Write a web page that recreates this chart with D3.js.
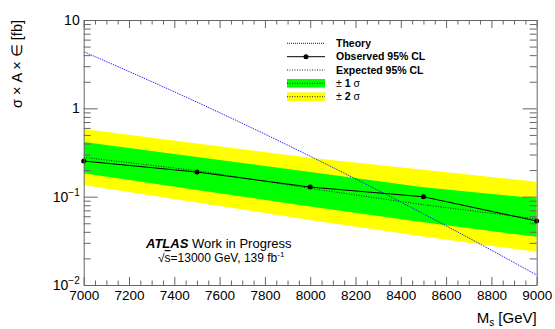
<!DOCTYPE html>
<html>
<head>
<meta charset="utf-8">
<script src="https://cdn.jsdelivr.net/npm/d3@7"></script>
<style>
  body { margin: 0; background: #fff; }
  svg text { font-family: "Liberation Sans", Arial, Helvetica, sans-serif; }
  .axis path, .axis line { stroke: #666; }
</style>
</head>
<body>
<div id="limitplot"></div>
<script>
// mass points of the limit scan
var masses     = [7000, 7500, 8000, 8500, 9000];
var observed   = [0.253, 0.19, 0.1285, 0.0997, 0.053];
var expected   = [0.279, 0.197, 0.124, 0.081, 0.056];
var band1Up    = [0.415, 0.281, 0.19, 0.128, 0.0957];
var band1Down  = [0.1836, 0.119, 0.0775, 0.0513, 0.0351];
var band2Up    = [0.583, 0.40, 0.275, 0.2017, 0.1475];
var band2Down  = [0.1353, 0.086, 0.0546, 0.0354, 0.0238];

// theory curve
var theoryMass = [7000, 7250, 7500, 7750, 8000, 8250, 8500, 8750, 9000];
var theory     = [4.38, 2.29, 1.175, 0.588, 0.287, 0.137, 0.0639, 0.0291, 0.01295];

// axis ticks
var xTicks      = [7000, 7200, 7400, 7600, 7800, 8000, 8200, 8400, 8600, 8800, 9000];
var yTicks      = [0.01, 0.1, 1, 10];
var yTickLabels = [["10", "-2"], ["10", "-1"], ["1", ""], ["10", ""]];

limitplot();

function limitplot() {
  var svg = d3.select("#limitplot")
              .append("svg")
              .attr("width", 555)
              .attr("height", 329);

  var left = 83.7, right = 536.7, top = 20, bottom = 285;

  var x = d3.scaleLinear().domain([7000, 9000]).range([left, right]);
  var y = d3.scaleLog().domain([0.01, 10]).range([bottom, top]);

  svg.append("clipPath").attr("id", "frame")
     .append("rect")
       .attr("x", left).attr("y", top)
       .attr("width", right - left).attr("height", bottom - top);

  var plot = svg.append("g").attr("clip-path", "url(#frame)");

  var rows = masses.map(function(m, i) {
    return { m: m, obs: observed[i], exp: expected[i],
             u1: band1Up[i], d1: band1Down[i], u2: band2Up[i], d2: band2Down[i] };
  });

  // +-2 sigma and +-1 sigma bands
  plot.append("path")
      .datum(rows)
      .attr("fill", "#ffff00")
      .attr("d", d3.area().x(function(d) { return x(d.m); })
                          .y0(function(d) { return y(d.d2); })
                          .y1(function(d) { return y(d.u2); }));
  plot.append("path")
      .datum(rows)
      .attr("fill", "#00ff00")
      .attr("d", d3.area().x(function(d) { return x(d.m); })
                          .y0(function(d) { return y(d.d1); })
                          .y1(function(d) { return y(d.u1); }));

  // expected
  plot.append("path")
      .datum(rows)
      .attr("fill", "none")
      .attr("stroke", "#222")
      .attr("stroke-width", 1)
      .attr("stroke-dasharray", "1,1.5")
      .attr("d", d3.line().x(function(d) { return x(d.m); })
                          .y(function(d) { return y(d.exp); }));

  // theory
  plot.append("path")
      .datum(theoryMass.map(function(m, i) { return { m: m, v: theory[i] }; }))
      .attr("fill", "none")
      .attr("stroke", "#0000ff")
      .attr("stroke-width", 1)
      .attr("stroke-dasharray", "1,1")
      .attr("d", d3.line().curve(d3.curveMonotoneX)
                          .x(function(d) { return x(d.m); })
                          .y(function(d) { return y(d.v); }));

  // observed
  plot.append("path")
      .datum(rows)
      .attr("fill", "none")
      .attr("stroke", "#000")
      .attr("stroke-width", 1)
      .attr("d", d3.line().x(function(d) { return x(d.m); })
                          .y(function(d) { return y(d.obs); }));
  svg.selectAll(".obs")
     .data(rows)
     .enter().append("circle")
       .attr("class", "obs")
       .attr("cx", function(d) { return x(d.m); })
       .attr("cy", function(d) { return y(d.obs); })
       .attr("r", 2.5)
       .attr("fill", "#000");

  // minor tick values
  var xMinor = d3.range(7000, 9001, 50).filter(function(v) { return v % 200 != 0; });
  var yMinor = [];
  [0.01, 0.1, 1].forEach(function(dec) {
    for (var k = 2; k <= 9; k++) yMinor.push(dec * k);
  });

  // bottom axis
  svg.append("g")
      .attr("class", "axis")
      .attr("transform", "translate(0," + bottom + ")")
      .call(d3.axisBottom(x).tickValues(xTicks).tickSizeInner(-8).tickSizeOuter(0).tickPadding(5)
              .tickFormat(d3.format("d")))
      .selectAll("text")
        .attr("font-size", "13.5px")
        .attr("fill", "#000");
  svg.append("g")
      .attr("class", "axis")
      .attr("transform", "translate(0," + bottom + ")")
      .call(d3.axisBottom(x).tickValues(xMinor).tickSize(-4.5).tickFormat(""))
      .select(".domain").remove();

  // top axis (ticks only)
  svg.append("g")
      .attr("class", "axis")
      .attr("transform", "translate(0," + top + ")")
      .call(d3.axisTop(x).tickValues(xTicks).tickSizeInner(-8).tickSizeOuter(0).tickFormat(""));
  svg.append("g")
      .attr("class", "axis")
      .attr("transform", "translate(0," + top + ")")
      .call(d3.axisTop(x).tickValues(xMinor).tickSize(-4.5).tickFormat(""))
      .select(".domain").remove();

  // left axis
  var yAxis = svg.append("g")
      .attr("class", "axis")
      .attr("transform", "translate(" + left + ",0)")
      .call(d3.axisLeft(y).tickValues(yTicks).tickSizeInner(-14).tickSizeOuter(0).tickPadding(4)
              .tickFormat(""));
  yAxis.selectAll(".tick text").each(function(d, i) {
    var t = d3.select(this)
              .attr("font-size", "14px")
              .attr("fill", "#000");
    t.append("tspan").text(yTickLabels[i][0]);
    if (yTickLabels[i][1] != "") {
      t.append("tspan").attr("font-size", "10px").attr("dy", "-0.6em").text("\u2212" + yTickLabels[i][1].slice(1));
    }
  });
  svg.append("g")
      .attr("class", "axis")
      .attr("transform", "translate(" + left + ",0)")
      .call(d3.axisLeft(y).tickValues(yMinor).tickSize(-7).tickFormat(""))
      .select(".domain").remove();

  // right axis (ticks only)
  svg.append("g")
      .attr("class", "axis")
      .attr("transform", "translate(" + right + ",0)")
      .call(d3.axisRight(y).tickValues(yTicks).tickSizeInner(-14).tickSizeOuter(0).tickFormat(""));
  svg.append("g")
      .attr("class", "axis")
      .attr("transform", "translate(" + right + ",0)")
      .call(d3.axisRight(y).tickValues(yMinor).tickSize(-7).tickFormat(""))
      .select(".domain").remove();

  // axis titles
  var xt = svg.append("text")
      .attr("x", right)
      .attr("y", 323)
      .attr("text-anchor", "end")
      .attr("font-size", "15px");
  xt.append("tspan").text("M");
  xt.append("tspan").attr("font-size", "10px").attr("dy", "3").text("s");
  xt.append("tspan").attr("dy", "-3").text(" [GeV]");

  svg.append("text")
      .attr("text-anchor", "end")
      .attr("font-size", "14.5px")
      .attr("transform", "translate(22,20)rotate(-90)")
      .text("\u03c3 \u00d7 A \u00d7 \u2208 [fb]");

  // ATLAS label
  var atl = svg.append("text")
      .attr("x", 146)
      .attr("y", 248)
      .attr("font-size", "13px");
  atl.append("tspan").attr("font-weight", "bold").attr("font-style", "italic").text("ATLAS");
  atl.append("tspan").text(" Work in Progress");

  var lum = svg.append("text")
      .attr("x", 158)
      .attr("y", 262)
      .attr("font-size", "12px");
  lum.append("tspan").text("\u221a");
  lum.append("tspan").attr("text-decoration", "overline").text("s");
  lum.append("tspan").text("=13000 GeV, 139 fb");
  lum.append("tspan").attr("font-size", "8px").attr("dy", "-5").text("-1");

  // legend
  var legend = svg.append("g").attr("font-size", "10.5px").attr("font-weight", "bold");
  var lx0 = 287, lx1 = 325, tx = 336;
  var ly = [43.3, 56.7, 70, 83.3, 96.7];

  legend.append("line").attr("x1", lx0).attr("x2", lx1).attr("y1", ly[0]).attr("y2", ly[0])
        .attr("stroke", "#0000ff").attr("stroke-dasharray", "1,1");
  legend.append("line").attr("x1", lx0).attr("x2", lx1).attr("y1", ly[1]).attr("y2", ly[1])
        .attr("stroke", "#000");
  legend.append("circle").attr("cx", (lx0 + lx1) / 2).attr("cy", ly[1]).attr("r", 2.5);
  legend.append("line").attr("x1", lx0).attr("x2", lx1).attr("y1", ly[2]).attr("y2", ly[2])
        .attr("stroke", "#222").attr("stroke-dasharray", "1,1.5");
  [["#00ff00", 3], ["#ffff00", 4]].forEach(function(b) {
    legend.append("rect").attr("x", lx0).attr("y", ly[b[1]] - 4.3)
          .attr("width", lx1 - lx0).attr("height", 8.6).attr("fill", b[0]);
    legend.append("line").attr("x1", lx0).attr("x2", lx1).attr("y1", ly[b[1]]).attr("y2", ly[b[1]])
          .attr("stroke", "#222").attr("stroke-dasharray", "1,1.5");
  });

  var names = ["Theory", "Observed 95% CL", "Expected 95% CL"];
  names.forEach(function(n, i) {
    legend.append("text").attr("x", tx).attr("y", ly[i]).attr("dy", "0.36em").text(n);
  });
  ["1", "2"].forEach(function(n, i) {
    var t = legend.append("text").attr("x", tx).attr("y", ly[3 + i]).attr("dy", "0.36em");
    t.append("tspan").attr("font-weight", "normal").text("\u00b1 ");
    t.append("tspan").text(n);
    t.append("tspan").attr("font-weight", "normal").text(" \u03c3");
  });
}
</script>
</body>
</html>
